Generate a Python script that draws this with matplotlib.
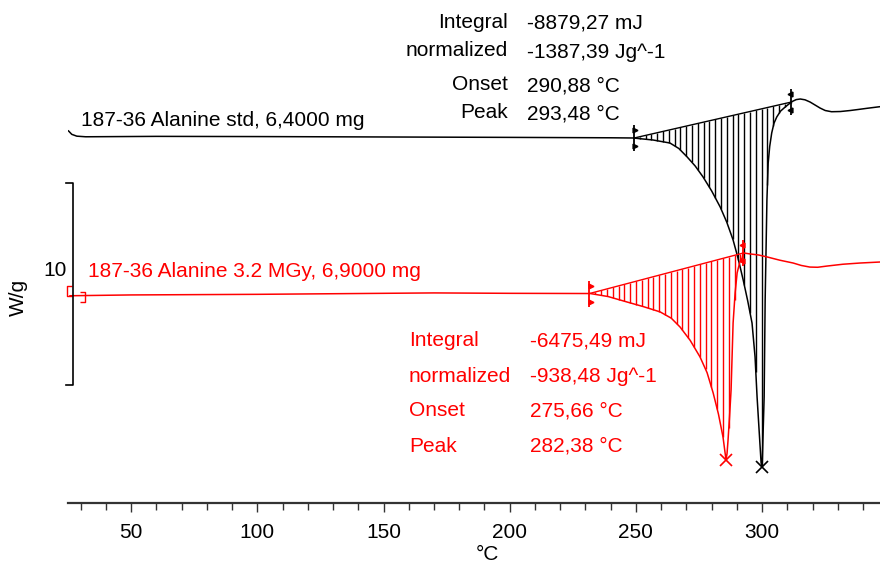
import numpy as np
import matplotlib
matplotlib.use("Agg")
import matplotlib.pyplot as plt
from matplotlib.path import Path
from matplotlib.transforms import offset_copy

plt.rcParams['font.family'] = ['Liberation Sans', 'DejaVu Sans']

# ---------------- data (temperature °C, heat flow W/g, offset) ----------------
std_T = [25.2, 26.5, 28.5, 32, 60, 100, 150, 200, 240, 248.9, 256.8, 263.5, 267.0,
         270.3, 273.5, 276.6, 280.0, 283.4, 286.0, 288.5, 290.5, 292.5, 294.3, 296.0,
         297.2, 298.0, 298.8, 299.6, 300.0, 300.8, 301.2, 301.9, 302.4, 303.0, 303.8,
         304.7, 305.8, 307.3, 309.1, 311.8, 313.5, 315.1, 317.0, 319.0, 321.0, 323.0,
         325.0, 327.5, 331.0, 334.9, 338.0, 341.6, 346.7]
std_v = [18.42, 18.25, 18.16, 18.13, 18.15, 18.14, 18.12, 18.10, 18.08, 18.07, 17.97,
         17.82, 17.55, 17.13, 16.68, 16.14, 15.45, 14.65, 13.90, 13.02, 12.10, 11.04,
         10.00, 8.91, 7.23, 5.25, 3.61, 1.98, 1.78, 5.25, 10.05, 15.00, 16.83, 17.65,
         18.32, 18.80, 19.11, 19.40, 19.60, 19.87, 19.97, 20.00, 19.96, 19.85, 19.70,
         19.55, 19.43, 19.37, 19.38, 19.43, 19.48, 19.54, 19.62]

irr_T = [25.8, 50, 100, 150, 170, 200, 231.9, 239.0, 246.5, 253.0, 259.6, 264.0, 267.5,
         271.5, 275.4, 278.2, 280.6, 282.7, 284.5, 285.2, 285.7, 286.1, 286.5, 287.1,
         287.7, 288.5, 289.3, 290.1, 291.1, 292.1, 292.5, 295.2, 298.5, 302.0, 307.0,
         312.3, 315.5, 318.9, 322.0, 325.7, 332.0, 338.8, 346.7]
irr_v = [10.26, 10.30, 10.33, 10.38, 10.40, 10.38, 10.37, 10.22, 9.95, 9.72, 9.46, 9.15,
         8.71, 8.05, 7.23, 6.45, 5.45, 4.40, 3.27, 2.60, 2.13, 2.45, 3.12, 4.30,
         5.59, 8.91, 10.40, 11.39, 11.90, 12.13, 12.38, 12.33, 12.28, 12.18, 12.02,
         11.88, 11.76, 11.68, 11.67, 11.73, 11.82, 11.88, 11.93]

std_limits = [249.2, 311.6]     # integration limits (°C)
irr_limits = [231.6, 292.6]
std_peak = 300.0
irr_peak = 285.7

std_name = "187-36 Alanine std, 6,4000 mg"
irr_name = "187-36 Alanine 3.2 MGy, 6,9000 mg"
res_labels = ["Integral", "normalized", "Onset", "Peak"]
std_results = ["-8879,27 mJ", "-1387,39 Jg^-1", "290,88 °C", "293,48 °C"]
irr_results = ["-6475,49 mJ", "-938,48 Jg^-1", "275,66 °C", "282,38 °C"]

x_major = [50, 100, 150, 200, 250, 300]
scale_bar = 10  # W/g

# ---------------- figure ----------------
W, H = 880, 565
fig = plt.figure(figsize=(W / 100, H / 100), dpi=100)
ax = fig.add_axes([68 / W, (H - 503) / H, (880 - 68) / W, 503 / H])
ax.set_xlim(25.0, 346.7)
ax.set_ylim(0, 503 / 20.2)
for s in ['top', 'left', 'right']:
    ax.spines[s].set_visible(False)
ax.spines['bottom'].set_color('#333333')
ax.spines['bottom'].set_linewidth(1.6)
ax.set_yticks([])
ax.set_xticks(x_major)
ax.set_xticks(np.arange(30, 347, 10), minor=True)
FS = 15
ax.tick_params(axis='x', which='major', direction='out', length=6.5, width=1.0,
               color='#333333', labelsize=FS, pad=8)
ax.tick_params(axis='x', which='minor', direction='out', length=4.8, width=1.0,
               color='#333333')

std_T = np.array(std_T); std_v = np.array(std_v)
irr_T = np.array(irr_T); irr_v = np.array(irr_v)


def draw_sample(T, v, lim, peak, color):
    v0 = np.interp(lim[0], T, v)
    v1 = np.interp(lim[1], T, v)
    ax.plot(lim, [v0, v1], color=color, lw=1.0)
    hx = np.arange(lim[0] + 2.3, lim[1], 2.3)
    base = v0 + (v1 - v0) * (hx - lim[0]) / (lim[1] - lim[0])
    curv = np.interp(hx, T, v)
    ax.vlines(hx, curv, base, color=color, lw=1.0)
    ax.plot(T, v, color=color, lw=1.1)
    for i, t in enumerate(lim):
        vv = np.interp(t, T, v)
        ax.plot([t], [vv], marker='|', ms=19, mew=1.3, color=color)
        m = '>' if i == 0 else '<'
        for dy in (8, -8):
            tr = offset_copy(ax.transData, fig=fig, x=1.5 if i == 0 else -1.5,
                             y=dy, units='dots')
            ax.plot([t], [vv], marker=m, ms=3.5, color=color, transform=tr)
    pv = np.interp(peak, T, v)
    ax.plot([peak], [pv], marker='x', ms=8, mew=1.2, color=color)


draw_sample(std_T, std_v, std_limits, std_peak, 'black')
draw_sample(irr_T, irr_v, irr_limits, irr_peak, '#ff0000')

ax.text(30.0, 18.95, std_name, fontsize=FS, color='black', va='center', ha='left')
ax.text(33.0, 11.45, irr_name, fontsize=FS, color='#ff0000', va='center', ha='left')

lb = Path([(1, 1), (0, 1), (0, -1), (1, -1)], [1, 2, 2, 2])
rb = Path([(-1, 1), (0, 1), (0, -1), (-1, -1)], [1, 2, 2, 2])
ax.plot([24.8], [10.5], marker=lb, ms=7, mew=1.0, color='#ff0000', fillstyle='none',
        clip_on=False)
ax.plot([31.9], [10.2], marker=rb, ms=7, mew=1.0, color='#ff0000', fillstyle='none',
        clip_on=False)

sb_x = 27.0
sb_c = 10.84
ax.plot([sb_x - 2.7, sb_x, sb_x, sb_x - 2.7],
        [sb_c + scale_bar / 2, sb_c + scale_bar / 2, sb_c - scale_bar / 2, sb_c - scale_bar / 2],
        color='black', lw=1.2, clip_on=False)
ax.text(24.7, 11.53, str(scale_bar), fontsize=FS, ha='right', va='center')
fig.text(18 / W, 1 - 297 / H, "W/g", rotation=90, fontsize=FS, ha='center', va='center')

ys_std = [22, 51, 85, 113]
for lab, val, y in zip(res_labels, std_results, ys_std):
    fig.text(508 / W, 1 - y / H, lab, fontsize=FS, ha='right', va='center')
    fig.text(527 / W, 1 - (y + 1) / H, val, fontsize=FS, ha='left', va='center')

ys_irr = [341, 377, 411, 446]
for lab, val, y in zip(res_labels, irr_results, ys_irr):
    fig.text(409 / W, 1 - y / H, lab, fontsize=FS, ha='left', va='center', color='#ff0000')
    fig.text(530 / W, 1 - y / H, val, fontsize=FS, ha='left', va='center', color='#ff0000')

fig.text(487 / W, 1 - 554 / H, "°C", fontsize=FS, ha='center', va='center')

fig.savefig("out.png", dpi=100)
